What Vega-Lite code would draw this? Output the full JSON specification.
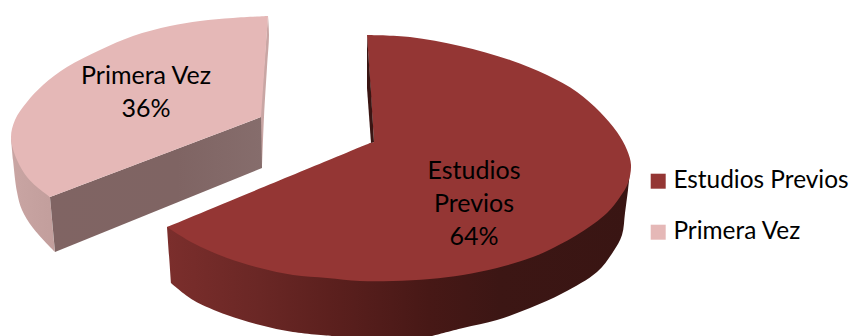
{
  "$schema": "https://vega.github.io/schema/vega-lite/v6.json",
  "width": 850,
  "height": 336,
  "padding": 0,
  "autosize": "none",
  "background": "white",
  "config": {"view": {"stroke": null}},
  "datasets": {
    "shares": [
      {"category": "Estudios Previos", "share": 64},
      {"category": "Primera Vez", "share": 36}
    ],
    "outlines": [
      {"face":"small-edge","step":1,"x":268,"y":16},{"face":"small-edge","step":2,"x":269,"y":35},{"face":"small-edge","step":3,"x":267,"y":67},{"face":"small-edge","step":4,"x":264,"y":117},{"face":"small-edge","step":5,"x":262,"y":168},{"face":"small-edge","step":6,"x":262,"y":168},{"face":"small-edge","step":7,"x":260,"y":168},{"face":"small-edge","step":8,"x":260,"y":168},{"face":"small-edge","step":9,"x":260,"y":117},{"face":"small-edge","step":10,"x":260,"y":117},
      {"face":"small-front","step":1,"x":50,"y":197},{"face":"small-front","step":2,"x":261,"y":117},{"face":"small-front","step":3,"x":262,"y":168},{"face":"small-front","step":4,"x":55,"y":252},
      {"face":"small-rim","step":1,"x":11,"y":138},{"face":"small-rim","step":2,"x":13,"y":160},{"face":"small-rim","step":3,"x":17,"y":192},{"face":"small-rim","step":4,"x":22,"y":210},{"face":"small-rim","step":5,"x":33,"y":228},{"face":"small-rim","step":6,"x":55,"y":252},{"face":"small-rim","step":7,"x":55,"y":252},{"face":"small-rim","step":8,"x":50,"y":197},{"face":"small-rim","step":9,"x":50,"y":197},{"face":"small-rim","step":10,"x":30,"y":160},{"face":"small-rim","step":11,"x":30,"y":160},
      {"face":"big-rim","step":1,"x":167,"y":227},{"face":"big-rim","step":2,"x":167,"y":227},{"face":"big-rim","step":3,"x":171,"y":283},{"face":"big-rim","step":4,"x":171,"y":283},{"face":"big-rim","step":5,"x":193,"y":300},{"face":"big-rim","step":6,"x":227,"y":315},{"face":"big-rim","step":7,"x":260,"y":325},{"face":"big-rim","step":8,"x":293,"y":332},{"face":"big-rim","step":9,"x":333,"y":336},{"face":"big-rim","step":10,"x":333,"y":336},{"face":"big-rim","step":11,"x":432,"y":336},{"face":"big-rim","step":12,"x":432,"y":336},{"face":"big-rim","step":13,"x":463,"y":328},{"face":"big-rim","step":14,"x":497,"y":320},{"face":"big-rim","step":15,"x":530,"y":308},{"face":"big-rim","step":16,"x":563,"y":293},{"face":"big-rim","step":17,"x":597,"y":272},{"face":"big-rim","step":18,"x":613,"y":252},{"face":"big-rim","step":19,"x":622,"y":235},{"face":"big-rim","step":20,"x":625,"y":213},{"face":"big-rim","step":21,"x":628,"y":190},{"face":"big-rim","step":22,"x":630,"y":172},{"face":"big-rim","step":23,"x":630,"y":172},{"face":"big-rim","step":24,"x":400,"y":200},{"face":"big-rim","step":25,"x":400,"y":200},
      {"face":"Primera Vez","step":1,"x":268,"y":16},{"face":"Primera Vez","step":2,"x":268,"y":16},{"face":"Primera Vez","step":3,"x":233,"y":18},{"face":"Primera Vez","step":4,"x":200,"y":21},{"face":"Primera Vez","step":5,"x":170,"y":26},{"face":"Primera Vez","step":6,"x":133,"y":36},{"face":"Primera Vez","step":7,"x":100,"y":50},{"face":"Primera Vez","step":8,"x":67,"y":67},{"face":"Primera Vez","step":9,"x":43,"y":85},{"face":"Primera Vez","step":10,"x":27,"y":102},{"face":"Primera Vez","step":11,"x":15,"y":120},{"face":"Primera Vez","step":12,"x":11,"y":138},{"face":"Primera Vez","step":13,"x":17,"y":160},{"face":"Primera Vez","step":14,"x":27,"y":177},{"face":"Primera Vez","step":15,"x":37,"y":187},{"face":"Primera Vez","step":16,"x":50,"y":197},{"face":"Primera Vez","step":17,"x":50,"y":197},{"face":"Primera Vez","step":18,"x":261,"y":117},{"face":"Primera Vez","step":19,"x":261,"y":117},
      {"face":"Estudios Previos","step":1,"x":367,"y":35},{"face":"Estudios Previos","step":2,"x":367,"y":35},{"face":"Estudios Previos","step":3,"x":410,"y":37},{"face":"Estudios Previos","step":4,"x":460,"y":46},{"face":"Estudios Previos","step":5,"x":510,"y":60},{"face":"Estudios Previos","step":6,"x":547,"y":75},{"face":"Estudios Previos","step":7,"x":577,"y":92},{"face":"Estudios Previos","step":8,"x":600,"y":112},{"face":"Estudios Previos","step":9,"x":617,"y":132},{"face":"Estudios Previos","step":10,"x":627,"y":150},{"face":"Estudios Previos","step":11,"x":631,"y":165},{"face":"Estudios Previos","step":12,"x":628,"y":183},{"face":"Estudios Previos","step":13,"x":620,"y":197},{"face":"Estudios Previos","step":14,"x":607,"y":213},{"face":"Estudios Previos","step":15,"x":580,"y":233},{"face":"Estudios Previos","step":16,"x":547,"y":251},{"face":"Estudios Previos","step":17,"x":530,"y":258},{"face":"Estudios Previos","step":18,"x":497,"y":268},{"face":"Estudios Previos","step":19,"x":463,"y":275},{"face":"Estudios Previos","step":20,"x":430,"y":279},{"face":"Estudios Previos","step":21,"x":393,"y":281},{"face":"Estudios Previos","step":22,"x":360,"y":281},{"face":"Estudios Previos","step":23,"x":327,"y":278},{"face":"Estudios Previos","step":24,"x":293,"y":275},{"face":"Estudios Previos","step":25,"x":260,"y":268},{"face":"Estudios Previos","step":26,"x":227,"y":258},{"face":"Estudios Previos","step":27,"x":193,"y":243},{"face":"Estudios Previos","step":28,"x":167,"y":227},{"face":"Estudios Previos","step":29,"x":167,"y":227},{"face":"Estudios Previos","step":30,"x":370,"y":143},{"face":"Estudios Previos","step":31,"x":370,"y":143},{"face":"Estudios Previos","step":32,"x":374,"y":142},{"face":"Estudios Previos","step":33,"x":374,"y":142},
      {"face":"big-notch","step":1,"x":367,"y":35},{"face":"big-notch","step":2,"x":371,"y":92},{"face":"big-notch","step":3,"x":374,"y":142},{"face":"big-notch","step":4,"x":371,"y":143},{"face":"big-notch","step":5,"x":367,"y":88}
    ]
  },
  "layer": [
    {
      "data": {"name": "outlines"},
      "transform": [{"filter": "datum.face === 'small-edge'"}],
      "mark": {"type": "line", "strokeWidth": 0, "interpolate": "catmull-rom", "fill": "#c9a6a4"},
      "encoding": {
        "x": {"field": "x", "type": "quantitative", "scale": {"domain": [0, 850], "nice": false, "zero": false}, "axis": null},
        "y": {"field": "y", "type": "quantitative", "scale": {"domain": [336, 0], "nice": false, "zero": false}, "axis": null},
        "order": {"field": "step"}
      }
    },
    {
      "data": {"name": "outlines"},
      "transform": [{"filter": "datum.face === 'small-rim'"}],
      "mark": {"type": "line", "strokeWidth": 0, "interpolate": "catmull-rom", "fill": {"x1": 0, "x2": 1, "y1": 0, "y2": 0, "gradient": "linear", "stops": [{"offset": 0, "color": "#c9a5a3"}, {"offset": 1, "color": "#c29e9c"}]}},
      "encoding": {
        "x": {"field": "x", "type": "quantitative", "scale": {"domain": [0, 850], "nice": false, "zero": false}, "axis": null},
        "y": {"field": "y", "type": "quantitative", "scale": {"domain": [336, 0], "nice": false, "zero": false}, "axis": null},
        "order": {"field": "step"}
      }
    },
    {
      "data": {"name": "outlines"},
      "transform": [{"filter": "datum.face === 'small-front'"}],
      "mark": {"type": "line", "strokeWidth": 0, "fill": {"x1": 0, "x2": 1, "y1": 0, "y2": 0, "gradient": "linear", "stops": [{"offset": 0, "color": "#806463"}, {"offset": 0.6, "color": "#7f6463"}, {"offset": 1, "color": "#866d6c"}]}},
      "encoding": {
        "x": {"field": "x", "type": "quantitative", "scale": {"domain": [0, 850], "nice": false, "zero": false}, "axis": null},
        "y": {"field": "y", "type": "quantitative", "scale": {"domain": [336, 0], "nice": false, "zero": false}, "axis": null},
        "order": {"field": "step"}
      }
    },
    {
      "data": {"name": "outlines"},
      "transform": [{"filter": "datum.face === 'big-rim'"}],
      "mark": {"type": "line", "strokeWidth": 0, "interpolate": "catmull-rom", "fill": {"x1": 0, "x2": 1, "y1": 0, "y2": 0, "gradient": "linear", "stops": [{"offset": 0, "color": "#7b2e2c"}, {"offset": 0.2, "color": "#6a2725"}, {"offset": 0.35, "color": "#5c201e"}, {"offset": 0.566, "color": "#471816"}, {"offset": 0.72, "color": "#3c1614"}, {"offset": 1, "color": "#391513"}]}},
      "encoding": {
        "x": {"field": "x", "type": "quantitative", "scale": {"domain": [0, 850], "nice": false, "zero": false}, "axis": null},
        "y": {"field": "y", "type": "quantitative", "scale": {"domain": [336, 0], "nice": false, "zero": false}, "axis": null},
        "order": {"field": "step"}
      }
    },
    {
      "data": {"name": "outlines"},
      "transform": [{"filter": "datum.face === 'Estudios Previos' || datum.face === 'Primera Vez'"}],
      "mark": {"type": "line", "strokeWidth": 0, "interpolate": "catmull-rom"},
      "encoding": {
        "x": {"field": "x", "type": "quantitative", "scale": {"domain": [0, 850], "nice": false, "zero": false}, "axis": null},
        "y": {"field": "y", "type": "quantitative", "scale": {"domain": [336, 0], "nice": false, "zero": false}, "axis": null},
        "order": {"field": "step"},
        "fill": {
          "field": "face",
          "type": "nominal",
          "scale": {"domain": ["Estudios Previos", "Primera Vez"], "range": ["#943634", "#e5b8b7"]},
          "legend": {
            "orient": "none",
            "legendX": 646,
            "legendY": 169,
            "title": null,
            "symbolType": "square",
            "symbolSize": 225,
            "symbolStrokeWidth": 0,
            "labelFont": "Lato",
            "labelFontSize": 24.4,
            "labelColor": "#000000",
            "labelOffset": 3,
            "labelLimit": 300,
            "rowPadding": 26,
            "padding": 0
          }
        }
      }
    },
    {
      "data": {"name": "outlines"},
      "transform": [{"filter": "datum.face === 'big-notch'"}],
      "mark": {"type": "line", "strokeWidth": 0, "fill": "#3a1513"},
      "encoding": {
        "x": {"field": "x", "type": "quantitative", "scale": {"domain": [0, 850], "nice": false, "zero": false}, "axis": null},
        "y": {"field": "y", "type": "quantitative", "scale": {"domain": [336, 0], "nice": false, "zero": false}, "axis": null},
        "order": {"field": "step"}
      }
    },
    {
      "data": {"name": "shares"},
      "transform": [
        {"filter": "datum.category === 'Primera Vez'"},
        {"calculate": "datum.category + '\\n' + datum.share + '%'", "as": "label"}
      ],
      "mark": {"type": "text", "font": "Lato", "fontSize": 25, "lineBreak": "\n", "lineHeight": 33, "align": "center", "baseline": "alphabetic", "color": "#000000"},
      "encoding": {
        "x": {"datum": 146, "type": "quantitative", "scale": {"domain": [0, 850], "nice": false, "zero": false}, "axis": null},
        "y": {"datum": 84, "type": "quantitative", "scale": {"domain": [336, 0], "nice": false, "zero": false}, "axis": null},
        "text": {"field": "label"}
      }
    },
    {
      "data": {"name": "shares"},
      "transform": [
        {"filter": "datum.category === 'Estudios Previos'"},
        {"calculate": "replace(datum.category, ' ', '\\n') + '\\n' + datum.share + '%'", "as": "label"}
      ],
      "mark": {"type": "text", "font": "Lato", "fontSize": 25, "lineBreak": "\n", "lineHeight": 33, "align": "center", "baseline": "alphabetic", "color": "#000000"},
      "encoding": {
        "x": {"datum": 474, "type": "quantitative", "scale": {"domain": [0, 850], "nice": false, "zero": false}, "axis": null},
        "y": {"datum": 179, "type": "quantitative", "scale": {"domain": [336, 0], "nice": false, "zero": false}, "axis": null},
        "text": {"field": "label"}
      }
    }
  ]
}
